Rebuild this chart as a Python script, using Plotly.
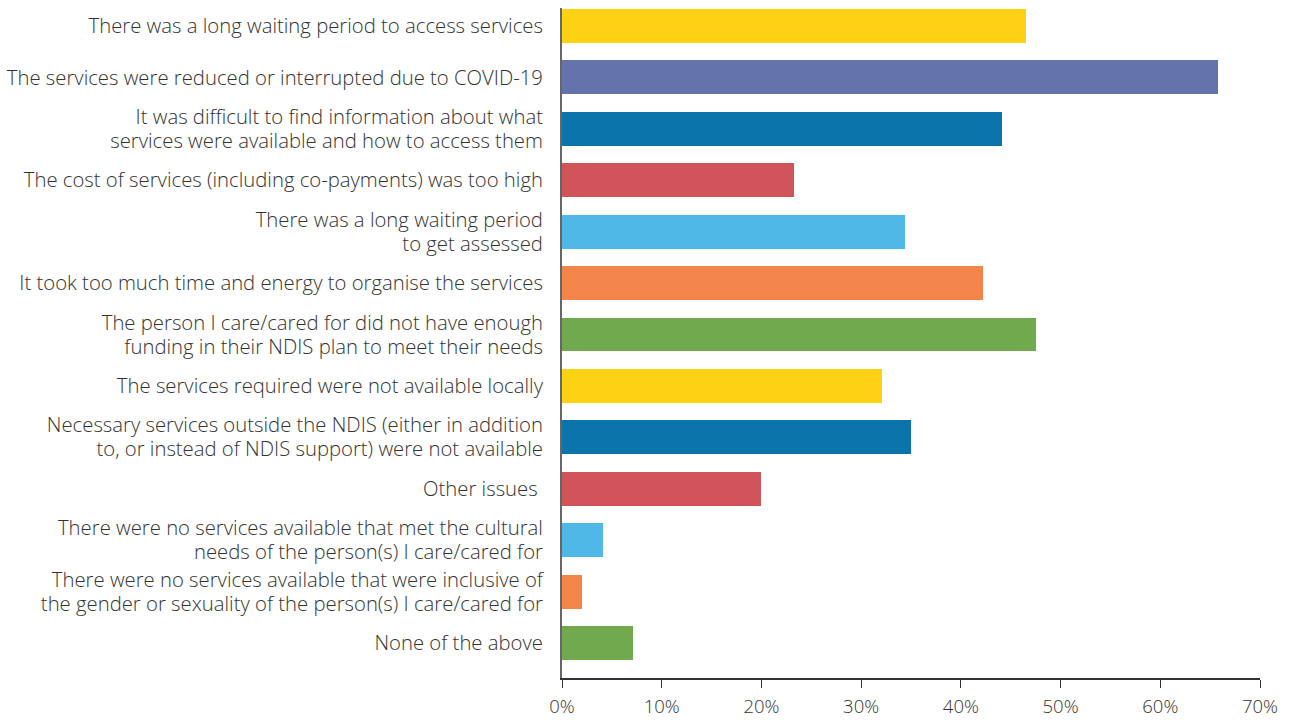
import plotly.graph_objects as go

categories = [
    "There was a long waiting period to access services",
    "The services were reduced or interrupted due to COVID-19",
    "It was difficult to find information about what<br>services were available and how to access them",
    "The cost of services (including co-payments) was too high",
    "There was a long waiting period<br>to get assessed",
    "It took too much time and energy to organise the services",
    "The person I care/cared for did not have enough<br>funding in their NDIS plan to meet their needs",
    "The services required were not available locally",
    "Necessary services outside the NDIS (either in addition<br>to, or instead of NDIS support) were not available",
    "Other issues ",
    "There were no services available that met the cultural<br>needs of the person(s) I care/cared for",
    "There were no services available that were inclusive of<br>the gender or sexuality of the person(s) I care/cared for",
    "None of the above",
]
values = [46.5, 65.8, 44.1, 23.3, 34.4, 42.2, 47.5, 32.1, 35.0, 20.0, 4.1, 2.0, 7.1]
colors = ["#FDD213", "#6573AD", "#0B74AA", "#D1545A", "#4FB8E7", "#F4854A", "#70A94E",
          "#FDD213", "#0B74AA", "#D1545A", "#4FB8E7", "#F4854A", "#70A94E"]
x_ticks = [0, 10, 20, 30, 40, 50, 60, 70]
x_tick_labels = ["0%", "10%", "20%", "30%", "40%", "50%", "60%", "70%"]

positions = list(range(len(categories)))

# Wrapped category labels: each line becomes its own tick so the
# line spacing can be tighter than the default 1.3em.
LINE_OFFSET = 0.233
label_vals, label_text = [], []
for pos, cat in zip(positions, categories):
    lines = cat.split("<br>")
    n = len(lines)
    for k, line in enumerate(lines):
        label_vals.append(pos + (k - (n - 1) / 2) * 2 * LINE_OFFSET)
        label_text.append(line)

fig = go.Figure(go.Bar(
    x=values,
    y=positions,
    orientation="h",
    marker=dict(color=colors, line=dict(width=0)),
    width=0.66,
    hoverinfo="skip",
))

category_font = dict(family="Open Sans, Lato, sans-serif", size=20.3, color="#333333", weight=300)
tick_font = dict(family="Open Sans, Lato, sans-serif", size=18.5, color="#333333", weight=300)

fig.update_layout(
    width=1290, height=720,
    margin=dict(l=562, r=30, t=8, b=42),
    paper_bgcolor="white", plot_bgcolor="white",
    font=category_font,
    showlegend=False,
    bargap=0,
)
fig.update_xaxes(
    range=[0, 70],
    tickvals=x_ticks, ticktext=x_tick_labels,
    showgrid=False, zeroline=False,
    showline=True, linecolor="#333333", linewidth=1.5,
    ticks="outside", ticklen=8, tickcolor="#333333", tickwidth=1.2,
    tickfont=tick_font, ticklabelstandoff=3,
    automargin=False,
    fixedrange=True,
)
fig.update_yaxes(
    range=[12.68, -0.35],
    tickvals=label_vals, ticktext=label_text,
    showgrid=False, zeroline=False,
    showline=True, linecolor="#666666", linewidth=2,
    ticks="", ticklabelstandoff=13,
    tickfont=category_font,
    automargin=False,
    fixedrange=True,
)

fig.write_html("out.html")
